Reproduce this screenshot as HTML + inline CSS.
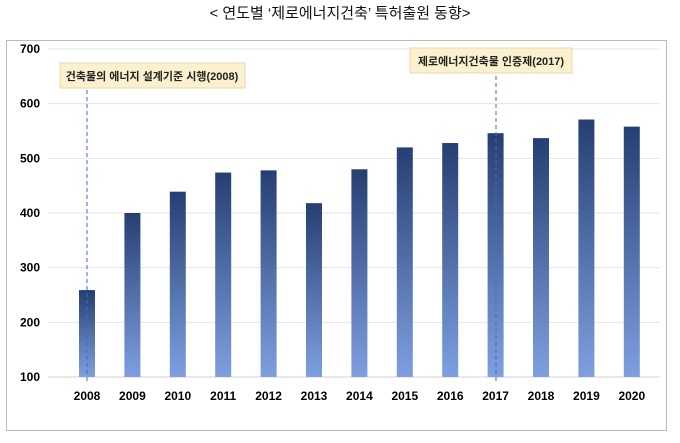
<!DOCTYPE html>
<html><head><meta charset="utf-8"><style>
body{margin:0;background:#fff;width:680px;height:438px;overflow:hidden;font-family:"Liberation Sans","Noto Sans CJK KR",sans-serif}
</style></head><body>
<svg width="680" height="438" xmlns="http://www.w3.org/2000/svg">
<defs><linearGradient id="g" x1="0" y1="0" x2="0" y2="1"><stop offset="0" stop-color="#263f72"/><stop offset="1" stop-color="#7e9fe0"/></linearGradient></defs>
<text x="340" y="18" text-anchor="middle" font-size="15" fill="#111" font-family="Liberation Sans, Noto Sans CJK KR, sans-serif">&lt; 연도별 ‘제로에너지건축’ 특허출원 동향&gt;</text>
<rect x="6.5" y="40.5" width="660" height="390" fill="#fff" stroke="#bbb"/>
<g id="grid"></g><g id="bars"></g><g id="labels"></g>
<line x1="87" y1="90" x2="87" y2="382" stroke="#3b6fc4" stroke-dasharray="4,3"/>
<line x1="496" y1="76" x2="496" y2="382" stroke="#3b6fc4" stroke-dasharray="4,3"/>
<rect x="60" y="63" width="185" height="25" fill="#fbf1cf" stroke="#e6d9a8"/>
<text x="152" y="80" text-anchor="middle" font-size="11" font-weight="bold" fill="#222">건축물의 에너지 설계기준 시행(2008)</text>
<rect x="410" y="48" width="162" height="25" fill="#fbf1cf" stroke="#e6d9a8"/>
<text x="491" y="65" text-anchor="middle" font-size="11" font-weight="bold" fill="#222">제로에너지건축물 인증제(2017)</text>
</svg>
<script>
const years=["2008","2009","2010","2011","2012","2013","2014","2015","2016","2017","2018","2019","2020"];
const values=[259,400,439,474,478,418,480,520,528,546,537,571,558];
const ticks=[100,200,300,400,500,600,700];
const NS="http://www.w3.org/2000/svg";
const y=v=>377-(v-100)*(328/600);
const x=i=>87+i*45.4;
const grid=document.getElementById('grid'),bars=document.getElementById('bars'),labels=document.getElementById('labels');
ticks.forEach(t=>{
 const l=document.createElementNS(NS,'line');
 
 
 l.setAttribute('x1',48);l.setAttribute('x2',660);l.setAttribute('y1',y(t));l.setAttribute('y2',y(t));
 l.setAttribute('stroke',t==100?'#d0d0d0':'#e4e4e4');grid.appendChild(l);
 const tx=document.createElementNS(NS,'text');
 
 
 tx.setAttribute('x',40);tx.setAttribute('y',y(t)+4);tx.setAttribute('text-anchor','end');
 tx.setAttribute('font-size','12');tx.setAttribute('font-weight','bold');tx.textContent=t;labels.appendChild(tx);
});
values.forEach((v,i)=>{
 const r=document.createElementNS(NS,'rect');
 
 
 r.setAttribute('x',x(i)-8);r.setAttribute('width',16);r.setAttribute('y',y(v));r.setAttribute('height',y(100)-y(v));
 r.setAttribute('fill','url(#g)');bars.appendChild(r);
 const tx=document.createElementNS(NS,'text');
 
 
 tx.setAttribute('x',x(i));tx.setAttribute('y',400);tx.setAttribute('text-anchor','middle');
 tx.setAttribute('font-size','12');tx.setAttribute('font-weight','bold');tx.textContent=years[i];labels.appendChild(tx);
});
</script>
</body></html>
